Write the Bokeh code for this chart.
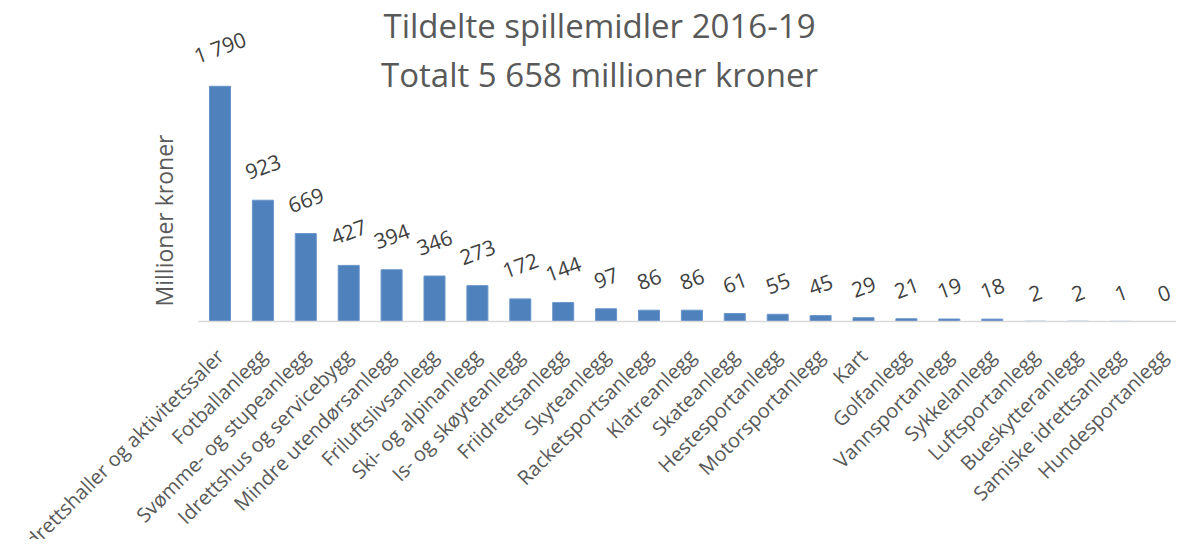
import math
from bokeh.plotting import figure
from bokeh.models import ColumnDataSource, Range1d, LabelSet, Label
from bokeh.core.properties import value
from bokeh.embed import file_html
from bokeh.resources import INLINE

categories = ["Idrettshaller og aktivitetssaler", "Fotballanlegg", "Svømme- og stupeanlegg",
              "Idrettshus og servicebygg", "Mindre utendørsanlegg", "Friluftslivsanlegg",
              "Ski- og alpinanlegg", "Is- og skøyteanlegg", "Friidrettsanlegg", "Skyteanlegg",
              "Racketsportsanlegg", "Klatreanlegg", "Skateanlegg", "Hestesportanlegg",
              "Motorsportanlegg", "Kart", "Golfanlegg", "Vannsportanlegg", "Sykkelanlegg",
              "Luftsportanlegg", "Bueskytteranlegg", "Samiske idrettsanlegg", "Hundesportanlegg"]
values = [1790, 923, 669, 427, 394, 346, 273, 172, 144, 97, 86, 86, 61, 55, 45, 29, 21, 19, 18, 2, 2, 1, 0]
title_lines = ["Tildelte spillemidler 2016-19", "Totalt 5 658 millioner kroner"]
y_title = "Millioner kroner"

# --- layout constants (pixels) ---
W, H = 1176, 539
CAT_PX = 42.9          # width of one category slot
FIRST_CENTER = 219.5   # x of first category centre
BASE_Y = 321           # y (from top) of the value axis zero line
VAL_PX = 0.1314        # pixels per million kroner

x_start = -FIRST_CENTER / CAT_PX
x_end = x_start + W / CAT_PX
y_start = -(H - BASE_Y) / VAL_PX
y_end = BASE_Y / VAL_PX

idx = list(range(len(categories)))
labels = [f"{v:,}".replace(",", " ") for v in values]
yoff = [26 + 2.6 * len(t) for t in labels]

src = ColumnDataSource(dict(x=idx, cat=categories, val=values, label=labels, yoff=yoff,
                            zero=[0] * len(categories)))

p = figure(x_range=Range1d(x_start, x_end), y_range=Range1d(y_start, y_end),
           width=W, height=H, output_backend="svg", toolbar_location=None,
           min_border_left=0, min_border_right=0, min_border_top=0, min_border_bottom=0,
           x_axis_location=None, y_axis_location=None)
p.outline_line_color = None
p.xgrid.visible = False
p.ygrid.visible = False
p.background_fill_color = "white"

p.vbar(x="x", top="val", width=0.49, source=src, fill_color="#4F81BD", line_color="#6A95CB", line_width=1)

# category axis line
p.segment(x0=[-0.5], y0=[0], x1=[x_end], y1=[0], line_color="#D9D9D9", line_width=1.5)

cat_labels = LabelSet(x="x", y="zero", text="cat", source=src, x_offset=0, y_offset=-31,
                      angle=math.pi / 4, text_align="right", text_baseline="middle",
                      text_font=value("Open Sans"), text_font_size="20px", text_color="#595959")
p.add_layout(cat_labels)

val_labels = LabelSet(x="x", y="val", text="label", source=src, y_offset="yoff", angle=math.radians(20),
                      text_align="center", text_baseline="middle", text_font=value("Open Sans"),
                      text_font_size="21px", text_color="#404040")
p.add_layout(val_labels)

for txt, yy in zip(title_lines, [H - 25, H - 73.5]):
    p.add_layout(Label(x=599, y=yy, x_units="screen", y_units="screen", text=txt, text_align="center",
                       text_baseline="middle", text_font="Open Sans", text_font_size="33px",
                       text_color="#595959"))

p.add_layout(Label(x=163, y=H - 220, x_units="screen", y_units="screen", text=y_title, angle=math.pi / 2,
                   text_align="center", text_baseline="middle", text_font="Open Sans",
                   text_font_size="23px", text_color="#595959"))

open("out.html", "w").write(file_html(p, INLINE))
